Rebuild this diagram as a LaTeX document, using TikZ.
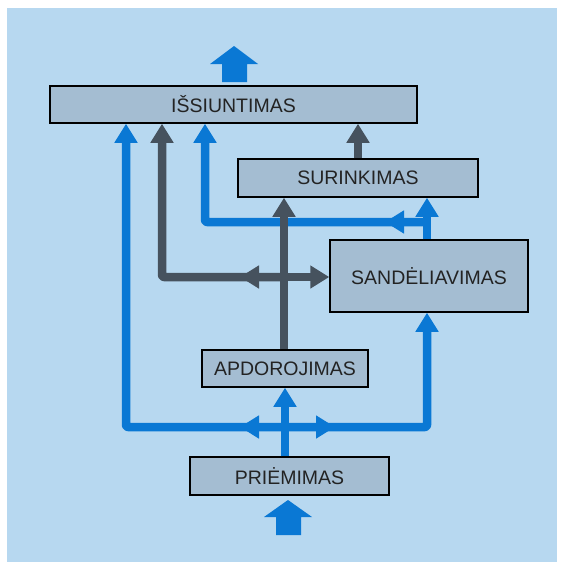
\documentclass[tikz,border=0pt]{standalone}
\usepackage{fontspec}
\setmainfont{Liberation Sans}
\usetikzlibrary{arrows.meta}
\definecolor{bgblue}{RGB}{183,216,240}
\definecolor{boxfill}{RGB}{164,189,210}
\definecolor{flowblue}{RGB}{10,120,212}
\definecolor{flowgray}{RGB}{70,82,94}
\definecolor{txt}{RGB}{35,35,35}
\begin{document}
\begin{tikzpicture}[x=1pt,y=-1pt,
 stage/.style={draw=black, line width=1.5pt, fill=boxfill, inner sep=0pt, text=txt, font=\fontsize{19.5}{21}\selectfont},
 bflow/.style={draw=flowblue, line width=8.5pt, line join=round, rounded corners=2pt},
 gflow/.style={draw=flowgray, line width=8.5pt, line join=round, rounded corners=2pt},
 tipa/.style={-{Triangle[width=22pt,length=19pt]}},
 bigarrow/.style={fill=flowblue}
]
\useasboundingbox (0,0) rectangle (564,570);
\fill[bgblue] (7,8) rectangle (557,562);

\node[stage, minimum width=367pt, minimum height=37pt] (iss) at (233.5,104.5) {IŠSIUNTIMAS};
\node[stage, minimum width=240pt, minimum height=38pt] (sur) at (358,178) {SURINKIMAS};
\node[stage, minimum width=198pt, minimum height=72pt] (san) at (429,276) {SANDĖLIAVIMAS};
\node[stage, minimum width=166pt, minimum height=37pt] (apd) at (285,368.5) {APDOROJIMAS};
\node[stage, minimum width=199pt, minimum height=38pt] (pri) at (289.5,476) {PRIĖMIMAS};

\coordinate (bL) at (126,427);
\coordinate (bC) at (285,427);
\coordinate (bR) at (427,427);
\coordinate (bLa) at (240,427);
\coordinate (bRa) at (335,427);
\coordinate (uR) at (427,222);
\coordinate (uL) at (205,222);
\coordinate (uLa) at (385,222);
\coordinate (gC) at (284,277);
\coordinate (gL) at (162,277);
\coordinate (gLa) at (240,277);
\coordinate (sT) at (358,140);

% blue flows
\draw[bflow,tipa] (bC |- pri.north) -- (bC |- apd.south);
\draw[bflow,tipa] (bC) -- (bL) -- (bL |- iss.south);
\draw[bflow,tipa] (bC) -- (bR) -- (bR |- san.south);
\draw[bflow,tipa] (bC) -- (bLa);
\draw[bflow,tipa] (bC) -- (bRa);
\draw[bflow,tipa] (uR |- san.north) -- (uR |- sur.south);
\draw[bflow,tipa] (uR) -- (uL) -- (uL |- iss.south);
\draw[bflow,tipa] (uR) -- (uLa);

% gray flows
\draw[gflow,tipa] (gC |- apd.north) -- (gC |- sur.south);
\draw[gflow,tipa] (gC) -- (gL) -- (gL |- iss.south);
\draw[gflow,tipa] (gC) -- (gC -| san.west);
\draw[gflow,tipa] (gC) -- (gLa);
\draw[gflow,tipa] (sT |- sur.north) -- (sT |- iss.south);

% big in/out arrows
\fill[bigarrow] (234,46) -- (258,64) -- (247,64) -- (247,82) -- (222,82) -- (222,64) -- (210,64) -- cycle;
\fill[bigarrow] (288,500) -- (312,517) -- (301,517) -- (301,535) -- (276,535) -- (276,517) -- (264,517) -- cycle;
\end{tikzpicture}
\end{document}
